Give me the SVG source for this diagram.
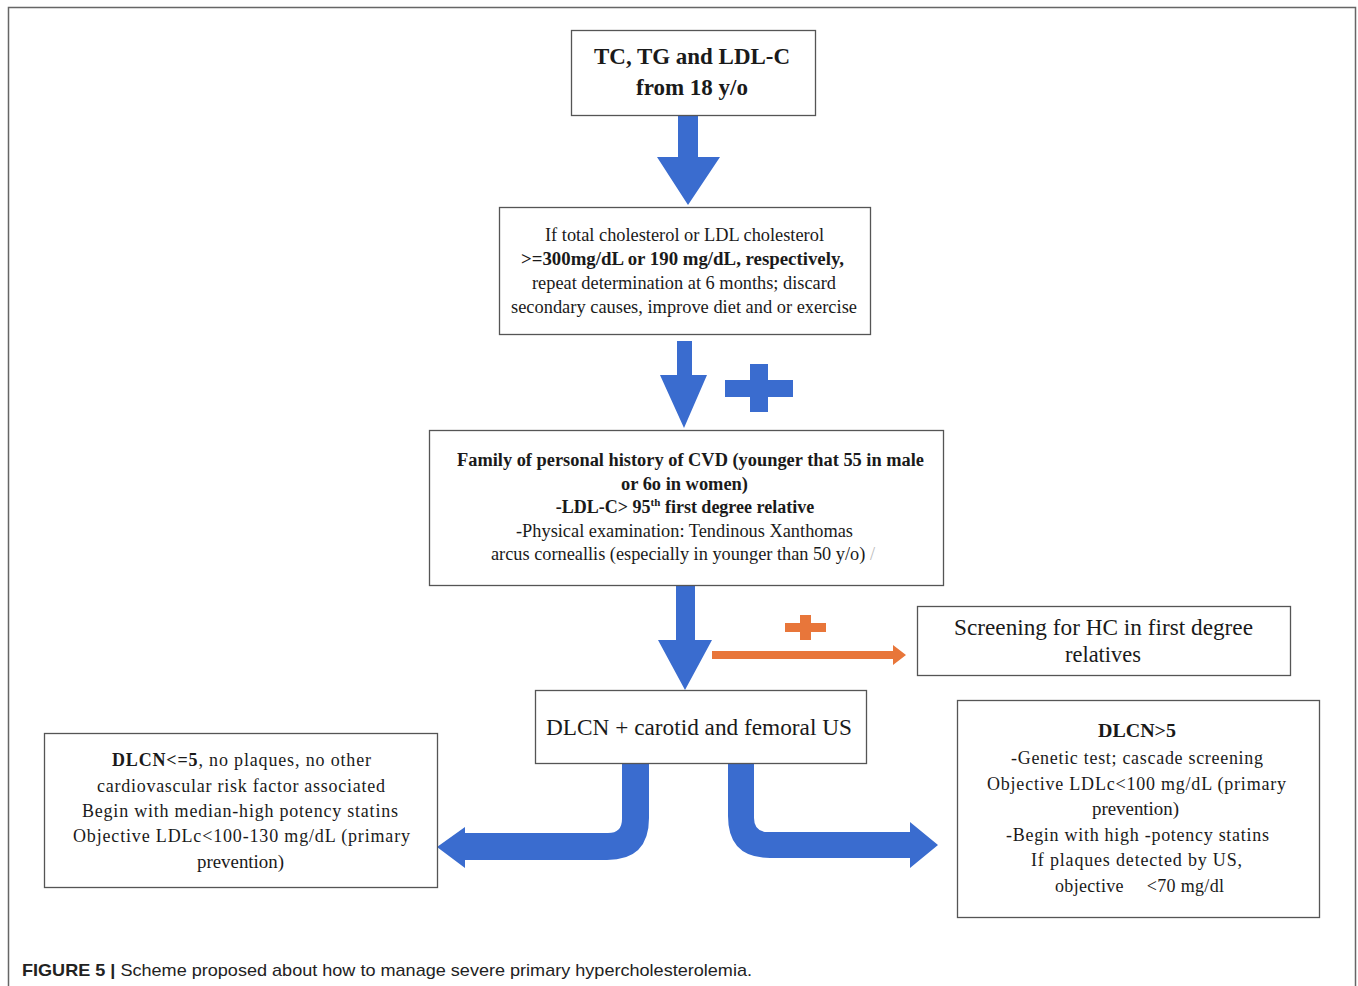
<svg xmlns="http://www.w3.org/2000/svg" width="1358" height="986" viewBox="0 0 1358 986">
<style>
.box{fill:#fff;stroke:#555;stroke-width:1.3}
.t{font-family:"Liberation Serif",serif;fill:#1a1a1a;text-anchor:middle}
.b{font-weight:bold}
.blue{fill:#3a6ccf}
.orange{fill:#e8763a}
.cap{font-family:"Liberation Sans",Arial,sans-serif;font-size:17px;fill:#222}
</style>
<rect x="0" y="0" width="1358" height="986" fill="#fff"/>
<path d="M8.5,986 V7.5 H1355.5 V986" fill="none" stroke="#666" stroke-width="1.5"/>

<g id="connectors">
  <path class="blue" d="M678,115 H698 V157 H720 L688,205 L657,157 H678 Z"/>
  <path class="blue" d="M677,341 H692 V375 H707 L684,428 L660,375 H677 Z"/>
  <path class="blue" d="M676,585 H695 V640 H712 L685,690 L658,640 H676 Z"/>
  <path class="orange" d="M712,651 H893 V645 L906,655 L893,665 V659 H712 Z"/>
  <path class="blue" d="M622,763 H649 V818 Q649,860 607,860 H465 V868 L437,847 L465,827 V833 H608 Q622,833 622,819 Z"/>
  <path class="blue" d="M728,763 H754 V818 Q754,832 768,832 H910 V822 L938,845 L910,868 V858 H770 Q728,858 728,816 Z"/>
</g>

<g id="plus-blue">
  <path class="blue" d="M750,364 H768 V380 H793 V397 H768 V412 H750 V397 H725 V380 H750 Z"/>
</g>
<g id="plus-orange">
  <path class="orange" d="M800,615 H811 V623 H826 V632 H811 V640 H800 V632 H785 V623 H800 Z"/>
</g>

<g id="node-start">
  <rect class="box" x="571.5" y="30.5" width="244" height="85"/>
  <text class="t b" font-size="23" x="692" y="64" textLength="196" lengthAdjust="spacingAndGlyphs">TC, TG and LDL-C</text>
  <text class="t b" font-size="23" x="692" y="95" textLength="112" lengthAdjust="spacingAndGlyphs">from 18 y/o</text>
</g>

<g id="node-repeat">
  <rect class="box" x="499.5" y="207.5" width="371" height="127"/>
  <text class="t" font-size="18" x="684.5" y="241" textLength="279" lengthAdjust="spacingAndGlyphs">If total cholesterol or LDL cholesterol</text>
  <text class="t b" font-size="18" x="682.5" y="265" textLength="323" lengthAdjust="spacingAndGlyphs">&gt;=300mg/dL or 190 mg/dL, respectively,</text>
  <text class="t" font-size="18" x="684" y="289" textLength="304" lengthAdjust="spacingAndGlyphs">repeat determination at 6 months; discard</text>
  <text class="t" font-size="18" x="684" y="313" textLength="346" lengthAdjust="spacingAndGlyphs">secondary causes, improve diet and or exercise</text>
</g>

<g id="node-history">
  <rect class="box" x="429.5" y="430.5" width="514" height="155"/>
  <text class="t b" font-size="18" x="690.5" y="466" textLength="467" lengthAdjust="spacingAndGlyphs">Family of personal history of CVD (younger that 55 in male</text>
  <text class="t b" font-size="18" x="684.5" y="490" textLength="127" lengthAdjust="spacingAndGlyphs">or 6o in women)</text>
  <text class="t b" font-size="18" x="685" y="513">-LDL-C&gt; 95<tspan font-size="11" dy="-7">th</tspan><tspan dy="7"> first degree relative</tspan></text>
  <text class="t" font-size="18" x="684.5" y="537" textLength="337" lengthAdjust="spacingAndGlyphs">-Physical examination:  Tendinous Xanthomas</text>
  <text class="t" font-size="18" x="683" y="560" textLength="384" lengthAdjust="spacingAndGlyphs">arcus corneallis (especially in younger than 50 y/o) <tspan fill="#bbb">/</tspan></text>
</g>

<g id="node-screening">
  <rect class="box" x="917.5" y="606.5" width="373" height="69"/>
  <text class="t" font-size="23" x="1103.5" y="635" textLength="299" lengthAdjust="spacingAndGlyphs">Screening for HC in first degree</text>
  <text class="t" font-size="23" x="1103" y="662" textLength="76" lengthAdjust="spacingAndGlyphs">relatives</text>
</g>

<g id="node-dlcn">
  <rect class="box" x="535.5" y="690.5" width="331" height="73"/>
  <text class="t" font-size="23" x="699" y="735" textLength="306" lengthAdjust="spacingAndGlyphs">DLCN + carotid and femoral US</text>
</g>

<g id="node-left">
  <rect class="box" x="44.5" y="733.5" width="393" height="154"/>
  <text class="t" font-size="18" x="241.5" y="766" textLength="259" lengthAdjust="spacing"><tspan font-weight="bold">DLCN&lt;=5</tspan>, no plaques, no other</text>
  <text class="t" font-size="18" x="241" y="792" textLength="288" lengthAdjust="spacing">cardiovascular risk factor associated</text>
  <text class="t" font-size="18" x="240" y="817" textLength="316" lengthAdjust="spacing">Begin with median-high potency statins</text>
  <text class="t" font-size="18" x="241.5" y="842" textLength="337" lengthAdjust="spacing">Objective LDLc&lt;100-130 mg/dL (primary</text>
  <text class="t" font-size="18" x="240.5" y="868" textLength="87" lengthAdjust="spacingAndGlyphs">prevention)</text>
</g>

<g id="node-right">
  <rect class="box" x="957.5" y="700.5" width="362" height="217"/>
  <text class="t b" font-size="18" x="1137" y="737" textLength="78" lengthAdjust="spacingAndGlyphs">DLCN&gt;5</text>
  <text class="t" font-size="18" x="1137" y="764" textLength="252" lengthAdjust="spacing">-Genetic test; cascade screening</text>
  <text class="t" font-size="18" x="1136.5" y="790" textLength="299" lengthAdjust="spacing">Objective LDLc&lt;100 mg/dL (primary</text>
  <text class="t" font-size="18" x="1135.5" y="815" textLength="87" lengthAdjust="spacingAndGlyphs">prevention)</text>
  <text class="t" font-size="18" x="1137.5" y="841" textLength="263" lengthAdjust="spacing">-Begin with high -potency statins</text>
  <text class="t" font-size="18" x="1136.5" y="866" textLength="211" lengthAdjust="spacing">If plaques detected by US,</text>
  <text class="t" font-size="18" x="1139.5" y="892" textLength="169" lengthAdjust="spacing">objective <tspan dx="18">&lt;70 mg/dl</tspan></text>
</g>

<text class="cap" x="22" y="976" textLength="730" lengthAdjust="spacingAndGlyphs"><tspan font-weight="bold">FIGURE 5 |</tspan> Scheme proposed about how to manage severe primary hypercholesterolemia.</text>
</svg>
